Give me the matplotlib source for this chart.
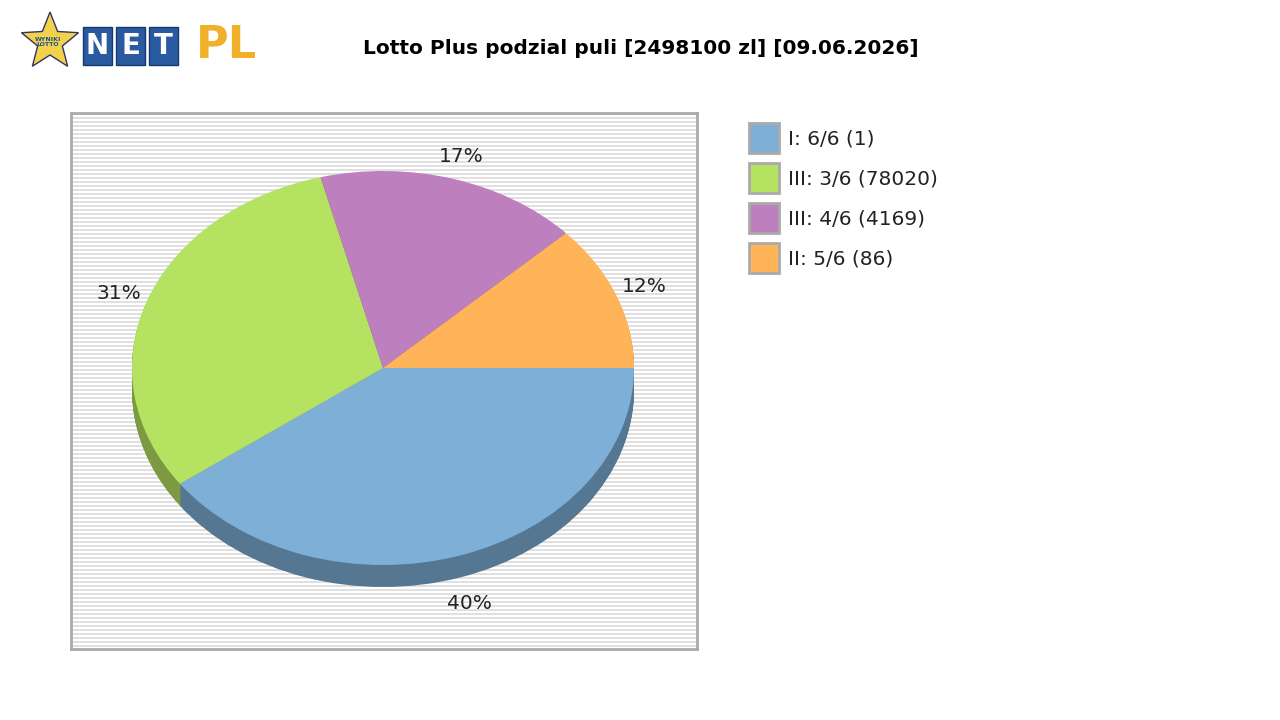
import numpy as np
import matplotlib.pyplot as plt
from matplotlib.patches import Wedge, Rectangle, Polygon
from matplotlib.transforms import Affine2D

labels = ["I: 6/6 (1)", "III: 3/6 (78020)", "III: 4/6 (4169)", "II: 5/6 (86)"]
shares = [40, 31, 17, 12]
colors = ["#7eafd6", "#b5e261", "#bd7fbe", "#ffb45a"]
title = "Lotto Plus podzial puli [2498100 zl] [09.06.2026]"

W, H = 1280, 720
fig = plt.figure(figsize=(12.8, 7.2), dpi=100)

def fx(x): return x / W
def fy(y): return 1 - y / H

# plot area in pixel coords
ax = fig.add_axes([fx(71), fy(649), 626 / W, 536 / H])
ax.set_xlim(71, 697)
ax.set_ylim(649, 113)
ax.set_xticks([]); ax.set_yticks([])
for s in ax.spines.values():
    s.set_color("#aaaaaa"); s.set_linewidth(2)
for y in np.arange(113, 649, 4):
    ax.axhspan(y, y + 2, color="#e0e0e0", lw=0)

cx, cy, rx, ry, depth = 383, 368, 251, 197, 22

def darker(c, f=0.68):
    r, g, b = [int(c[i:i + 2], 16) / 255 for i in (1, 3, 5)]
    return (r * f, g * f, b * f)

starts = np.cumsum([0] + shares[:-1]) * 3.6
for d in range(depth, 0, -1):
    tr = Affine2D().scale(rx, ry).translate(cx, cy + d) + ax.transData
    for st, sh, c in zip(starts, shares, colors):
        ax.add_patch(Wedge((0, 0), 1, st, st + sh * 3.6, color=darker(c), lw=0, transform=tr))
tr = Affine2D().scale(rx, ry).translate(cx, cy) + ax.transData
for st, sh, c in zip(starts, shares, colors):
    ax.add_patch(Wedge((0, 0), 1, st, st + sh * 3.6, color=c, lw=0, transform=tr))
    mid = np.radians(st + sh * 1.8)
    lx = cx + rx * 1.12 * np.cos(mid)
    ly = cy + ry * 1.12 * np.sin(mid) + (depth + 4 if np.sin(mid) > 0 else 0)
    ax.text(lx, ly, f"{sh}%", ha="center", va="center", fontsize=14.5, color="#222222")

# title
fig.text(fx(641), fy(48), title, ha="center", va="center", fontsize=14.5, fontweight="bold")

# legend
for i, (lab, c) in enumerate(zip(labels, colors)):
    y = 138 + 40 * i
    fig.patches.append(Rectangle((fx(749), fy(y + 15)), 30 / W, 30 / H, transform=fig.transFigure,
                                 facecolor=c, edgecolor="#aaaaaa", lw=2))
    fig.text(fx(788), fy(y + 1), lab, ha="left", va="center", fontsize=14.5, color="#222222")

# logo
ang = np.radians(90 + np.arange(10) * 36)
rad = np.where(np.arange(10) % 2 == 0, 30, 13)
pts = [(fx(50 + r * np.cos(a)), fy(42 - r * np.sin(a))) for r, a in zip(rad, ang)]
fig.patches.append(Polygon(pts, closed=True, transform=fig.transFigure,
                           facecolor="#f2d24b", edgecolor="#333366", lw=1))
fig.text(fx(48), fy(42), "WYNIKI\nLOTTO", ha="center", va="center", fontsize=4.5,
         color="#1d4f91", fontweight="bold")
for i, ch in enumerate("NET"):
    x0 = 83 + i * 33
    fig.patches.append(Rectangle((fx(x0), fy(65)), 29 / W, 38 / H, transform=fig.transFigure,
                                 facecolor="#2a5aa0", edgecolor="#153a70", lw=1))
    fig.text(fx(x0 + 14.5), fy(46), ch, ha="center", va="center", fontsize=20,
             color="white", fontweight="bold")
fig.text(fx(226), fy(45), "PL", ha="center", va="center", fontsize=32,
         color="#f0b02a", fontweight="bold")

fig.savefig("out.png", dpi=100)
